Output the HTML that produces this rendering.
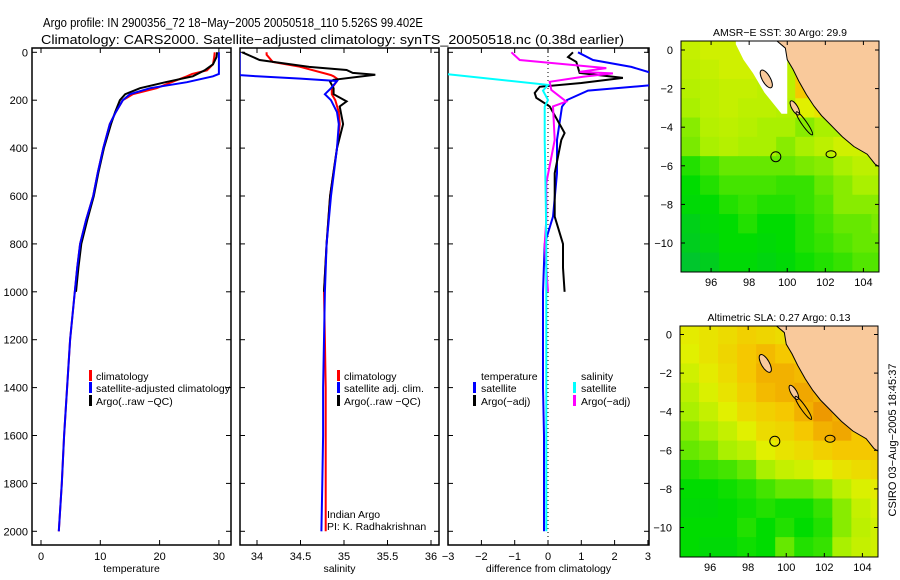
<!DOCTYPE html>
<html><head><meta charset="utf-8"><style>
body{margin:0;background:#fff}
svg{display:block;font-family:"Liberation Sans",sans-serif}
</style></head><body>
<svg id="c" width="900" height="580" xmlns="http://www.w3.org/2000/svg">
<rect width="900" height="580" fill="#fff"/>
<text x="43" y="27" font-size="13" textLength="380" lengthAdjust="spacingAndGlyphs">Argo profile: IN 2900356_72 18−May−2005 20050518_110 5.526S 99.402E</text>
<text x="41" y="44" font-size="13" textLength="583" lengthAdjust="spacingAndGlyphs">Climatology: CARS2000. Satellite−adjusted climatology: synTS_20050518.nc (0.38d earlier)</text>
<g id="plots"></g>
</svg>
<script>
// ---- profile data ----
const tDepth=[0,20,50,75,90,100,125,150,175,200,250,300,400,500,600,700,800,900,1000,1200,1400,1600,1800,2000];
const tClim=[29.3,29.2,29.0,28.0,25.5,24.6,22.0,19.5,15.5,13.8,12.6,11.6,10.5,9.6,8.8,7.6,6.6,6.1,5.7,4.9,4.4,3.9,3.5,3.0];
const tSat=[30.0,30.0,30.0,30.0,30.0,29.0,24.6,18.4,15.0,13.8,12.6,11.6,10.5,9.6,8.8,7.6,6.6,6.1,5.7,4.9,4.4,3.9,3.5,3.0];
const aDepth=[0,20,50,75,100,125,150,175,200,250,300,400,500,600,700,800,900,1000];
const tArgo=[29.7,29.6,29.0,27.6,25.6,21.0,16.7,14.2,13.3,12.5,11.8,10.6,9.7,8.9,7.8,6.8,6.3,5.9];
const sDepth=[0,10,40,60,90,95,100,110,120,150,175,200,250,300,400,600,800,1000,1200,1400,1600,1800,2000];
const sClim=[34.11,34.11,34.18,34.49,34.80,34.85,34.88,34.92,34.92,34.86,34.86,34.90,34.94,34.95,34.92,34.84,34.80,34.77,34.78,34.79,34.79,34.79,34.79];
const sSat=[33.8,33.8,33.8,33.8,33.8,33.8,34.0,34.5,34.92,34.85,34.78,34.85,34.92,34.94,34.92,34.85,34.80,34.78,34.77,34.76,34.76,34.75,34.74];
const saDepth=[0,32,61,74,86,94,115,123,150,175,205,226,300,400,600,800,1000];
const sArgo=[33.83,34.03,34.6,35.03,35.10,35.36,34.88,34.84,34.88,34.88,35.03,34.95,34.99,34.92,34.84,34.80,34.77];
// difference panel
const dDepth=[0,32,61,90,136,160,199,227,366,505,686,800,1000,1200,1400,1600,1800,2000];
const dTSat=[0.9,1.35,2.5,3.2,3.2,1.2,0.57,0.42,0.27,0.27,0.15,-0.1,-0.15,-0.15,-0.15,-0.12,-0.12,-0.12];
const dSSat=[-3.1,-3.1,-3.1,-3.1,0.0,-0.15,0.0,-0.1,-0.1,-0.08,-0.06,-0.05,-0.05,-0.05,-0.05,-0.05,-0.05,-0.05];
const daDepth=[0,20,40,86,107,128,144,170,190,226,337,366,505,686,800,900,1000];
const dTArgo=[0.75,0.6,0.85,0.95,2.25,1.0,-0.25,-0.4,-0.35,0.05,0.5,0.4,0.2,0.2,0.45,0.45,0.5];
const daSDepth=[0,32,45,66,82,88,102,123,157,206,226,366,546,700,800,900,1000];
const dSArgo=[-1.1,-0.85,0.15,1.75,0.95,1.95,1.05,0.05,0.1,0.55,0.15,0.2,-0.05,-0.05,-0.1,-0.05,0.0];
// maps (1-degree cells, rows lat 0.5 -> -11.5, cols lon 94.4 ->)
const sstGrid=[
[.62,.65,.65,.65,.63,.6,.6,.6,.6,.6,.7],
[.6,.62,.65,.65,.6,.6,.85,.8,.6,.6,.7],
[.58,.6,.62,.62,.6,.6,.85,.8,.6,.6,.6],
[.55,.6,.62,.6,.6,.58,.7,.75,.6,.6,.6],
[.5,.58,.6,.58,.55,.55,.5,.55,.55,.6,.6],
[.48,.55,.58,.55,.55,.5,.55,.6,.65,.65,.6],
[.35,.4,.45,.45,.45,.45,.48,.5,.55,.6,.6],
[.3,.35,.4,.4,.4,.38,.38,.45,.5,.55,.55],
[.28,.3,.35,.38,.35,.35,.38,.42,.5,.5,.5],
[.22,.28,.3,.35,.3,.3,.35,.4,.45,.45,.48],
[.2,.25,.3,.3,.28,.3,.35,.38,.42,.45,.45],
[.15,.2,.28,.28,.25,.28,.32,.35,.38,.42,.42]];
const slaGrid=[
[.72,.75,.78,.82,.8,.78,.75,.7,.7,.7,.7],
[.7,.75,.8,.85,.88,.85,.8,.75,.7,.7,.7],
[.65,.72,.78,.85,.9,.9,.88,.8,.75,.7,.7],
[.6,.68,.75,.82,.88,.9,.92,.9,.8,.75,.75],
[.55,.62,.7,.78,.82,.85,.9,.95,.9,.8,.78],
[.5,.55,.62,.7,.78,.8,.85,.9,.92,.85,.82],
[.45,.48,.55,.6,.7,.75,.78,.82,.85,.85,.85],
[.35,.38,.4,.45,.55,.62,.65,.7,.75,.78,.8],
[.3,.3,.32,.35,.4,.45,.45,.5,.6,.68,.72],
[.28,.28,.3,.32,.35,.32,.32,.38,.5,.62,.68],
[.3,.3,.3,.35,.3,.35,.3,.35,.5,.6,.65],
[.3,.28,.28,.32,.3,.45,.35,.38,.55,.62,.65]];
const depthTicks=[0,200,400,600,800,1000,1200,1400,1600,1800,2000];
const tTicks=[0,10,20,30], sTicks=[34,34.5,35,35.5,36], dTicks=[-3,-2,-1,0,1,2,3];
const latTicks=[0,-2,-4,-6,-8,-10], lonTicks=[96,98,100,102,104];

const NS="http://www.w3.org/2000/svg", G=document.getElementById('plots');
function mk(tag,at,parent){const e=document.createElementNS(NS,tag);for(const k in at)e.setAttribute(k,at[k]);(parent||G).appendChild(e);return e;}
const yD=d=>52.3+d*0.2395;
const P1={x0:32,x1:231,f:v=>41+v*5.93}, P2={x0:240,x1:439,f:v=>257+(v-34)*87}, P3={x0:448,x1:649,f:v=>548+v*33.3};
const TOP=48,BOT=545;
function frame(P,name,ticks,lab,labname,showY){
  const r=mk('rect',{x:P.x0,y:TOP,width:P.x1-P.x0,height:BOT-TOP,fill:'none',stroke:'#000','stroke-width':1.5});
  
  
  ticks.forEach(t=>{const x=P.f(t);
    mk('line',{x1:x,x2:x,y1:BOT,y2:BOT-5,stroke:'#000'});mk('line',{x1:x,x2:x,y1:TOP,y2:TOP+5,stroke:'#000'});
    const tx=mk('text',{x:x,y:560,'font-size':11,'text-anchor':'middle'});tx.textContent=(t<0?'−'+(-t):String(t));
    
    });
  depthTicks.forEach(d=>{const y=yD(d);
    mk('line',{x1:P.x0,x2:P.x0+5,y1:y,y2:y,stroke:'#000'});mk('line',{x1:P.x1,x2:P.x1-5,y1:y,y2:y,stroke:'#000'});
    if(showY){const tx=mk('text',{x:28,y:y+4,'font-size':11,'text-anchor':'end'});tx.textContent=d;
      
      }});
  const l=mk('text',{x:(P.x0+P.x1)/2,y:572,'font-size':10.5,'text-anchor':'middle'});l.textContent=lab;
  
  
}
function clip(id,P){const c=mk('clipPath',{id:id});mk('rect',{x:P.x0,y:TOP,width:P.x1-P.x0,height:BOT-TOP},c);}
function line(P,cid,depths,vals,col,name){
  let d='';depths.forEach((z,i)=>{d+=(i?'L':'M')+P.f(vals[i]).toFixed(1)+','+yD(z).toFixed(1);});
  const p=mk('path',{d:d,fill:'none',stroke:col,'stroke-width':2,'clip-path':'url(#'+cid+')'});
  
  
}
function txt(x,y,s,name,size,len){const a={x:x,y:y,'font-size':size||10.5};if(len){a.textLength=len;a.lengthAdjust='spacingAndGlyphs';}
  const t=mk('text',a);t.textContent=s;
  
  return t;}
function bar(x,y,col){mk('rect',{x:x,y:y-10,width:3,height:11,fill:col});}

frame(P1,'temperature-panel',tTicks,'temperature','x-axis-title-temperature',true);
frame(P2,'salinity-panel',sTicks,'salinity','x-axis-title-salinity',false);
frame(P3,'difference-panel',dTicks,'difference from climatology','x-axis-title-difference',false);
clip('c1',P1);clip('c2',P2);clip('c3',P3);
mk('line',{x1:P3.f(0),x2:P3.f(0),y1:TOP,y2:BOT,stroke:'#000','stroke-dasharray':'1,3'});
line(P1,'c1',tDepth,tClim,'#f00','temp-climatology-line');
line(P1,'c1',aDepth,tArgo,'#000','temp-argo-line');
line(P1,'c1',tDepth,tSat,'#00f','temp-satellite-line');
line(P2,'c2',sDepth,sClim,'#f00','sal-climatology-line');
line(P2,'c2',saDepth,sArgo,'#000','sal-argo-line');
line(P2,'c2',sDepth,sSat,'#00f','sal-satellite-line');
line(P3,'c3',dDepth,dTSat,'#00f','diff-temp-satellite-line');
line(P3,'c3',daDepth,dTArgo,'#000','diff-temp-argo-line');
line(P3,'c3',daSDepth,dSArgo,'#f0f','diff-sal-argo-line');
line(P3,'c3',dDepth,dSSat,'#0ff','diff-sal-satellite-line');
// legends
bar(89,380,'#f00');txt(96,380,'climatology','legend-climatology');
bar(89,392,'#00f');txt(96,392,'satellite-adjusted climatology','legend-satellite',10.5,134);
bar(89,405,'#000');txt(96,405,'Argo(..raw −QC)','legend-argo');
bar(337,380,'#f00');txt(344,380,'climatology','legend2-climatology');
bar(337,392,'#00f');txt(344,392,'satellite adj. clim.','legend2-satellite');
bar(337,405,'#000');txt(344,405,'Argo(..raw −QC)','legend2-argo');
txt(481,380,'temperature','legend3-temperature');
bar(473,392,'#00f');txt(481,392,'satellite','legend3-temp-satellite');
bar(473,405,'#000');txt(481,405,'Argo(−adj)','legend3-temp-argo');
txt(581,380,'salinity','legend3-salinity');
bar(573,392,'#0ff');txt(581,392,'satellite','legend3-sal-satellite');
bar(573,405,'#f0f');txt(581,405,'Argo(−adj)','legend3-sal-argo');
txt(327,518,'Indian Argo','credit-indian-argo');
txt(327,530,'PI: K. Radhakrishnan','credit-pi');

// ---- maps ----
function cmap(v){
  const stops=[[0,[0,175,90]],[0.3,[0,220,0]],[0.55,[170,240,0]],[0.7,[225,240,0]],[0.85,[245,200,0]],[1,[235,130,0]]];
  for(let i=1;i<stops.length;i++){if(v<=stops[i][0]){const a=stops[i-1],b=stops[i],t=(v-a[0])/(b[0]-a[0]);
    return 'rgb('+a[1].map((c,k)=>Math.round(c+(b[1][k]-c)*t)).join(',')+')';}}
  return 'rgb(235,130,0)';
}
function map(M,grid,title,name,white){
  const fx=lon=>M.x0+(lon-94.42)*19.04, fy=lat=>M.y0-lat*19.3;
  const g=mk('g',{});
  
  
  const cid=name+'-clip';const c=mk('clipPath',{id:cid},g);mk('rect',{x:M.x0,y:M.top,width:198,height:M.bot-M.top},c);
  const cells=mk('g',{'clip-path':'url(#'+cid+')'},g);
  grid.forEach((row,r)=>row.forEach((v,k)=>{
    const lat=0.5-r, lon=94.42+k;
    mk('rect',{x:fx(lon),y:fy(lat),width:19.6,height:19.9,fill:cmap(v)},cells);}));
  if(white){const pts=[[97.3,0.6],[100,0.6],[100,-3.3],[99.7,-3.3],[98.8,-2.2],[98.2,-1.2],[97.7,-0.5],[97.3,0.3]];
    mk('polygon',{points:pts.map(p=>fx(p[0])+','+fy(p[1])).join(' '),fill:'#fff'},cells);}
  const land=[[99.3,0.6],[99.9,0.1],[100.0,-0.5],[100.3,-1],[100.6,-1.6],[101,-2.3],[101.4,-2.9],[101.8,-3.4],[102.3,-3.9],[102.9,-4.5],[103.5,-5],[104.2,-5.4],[104.6,-5.9],[104.9,-6.1],[104.9,0.6]];
  mk('polygon',{points:land.map(p=>fx(p[0])+','+fy(p[1])).join(' '),fill:'#f9c99b',stroke:'#000','stroke-width':1},cells);
  mk('ellipse',{cx:fx(98.9),cy:fy(-1.5),rx:4,ry:10,fill:'#f9c99b',stroke:'#000',transform:'rotate(-30 '+fx(98.9)+' '+fy(-1.5)+')'},cells);
  mk('ellipse',{cx:fx(100.4),cy:fy(-3.0),rx:3,ry:8,fill:'#f9c99b',stroke:'#000',transform:'rotate(-30 '+fx(100.4)+' '+fy(-3.0)+')'},cells);
  mk('ellipse',{cx:fx(100.9),cy:fy(-3.8),rx:2.5,ry:14,fill:'none',stroke:'#000',transform:'rotate(-35 '+fx(100.9)+' '+fy(-3.8)+')'},cells);
  mk('circle',{cx:fx(99.4),cy:fy(-5.53),r:5,fill:'none',stroke:'#000'},cells);
  mk('ellipse',{cx:fx(102.3),cy:fy(-5.4),rx:5,ry:3.5,fill:'none',stroke:'#000'},cells);
  mk('rect',{x:M.x0,y:M.top,width:198,height:M.bot-M.top,fill:'none',stroke:'#000'},g);
  latTicks.forEach(l=>{const y=fy(l);mk('line',{x1:M.x0,x2:M.x0+4,y1:y,y2:y,stroke:'#000'},g);mk('line',{x1:M.x0+198,x2:M.x0+194,y1:y,y2:y,stroke:'#000'},g);
    const t=mk('text',{x:M.x0-8,y:y+4,'font-size':11,'text-anchor':'end'},g);t.textContent=l<0?'−'+(-l):l;});
  lonTicks.forEach(l=>{const x=fx(l);mk('line',{x1:x,x2:x,y1:M.bot,y2:M.bot-4,stroke:'#000'},g);mk('line',{x1:x,x2:x,y1:M.top,y2:M.top+4,stroke:'#000'},g);
    const t=mk('text',{x:x,y:M.bot+14,'font-size':11,'text-anchor':'middle'},g);t.textContent=l;});
  const t=mk('text',{x:M.x0+99,y:M.top-5,'font-size':10.5,'text-anchor':'middle'},g);t.textContent=title;
}
map({x0:681,y0:50,top:41,bot:272},sstGrid,'AMSR−E SST: 30 Argo: 29.9','sst-map',true);
map({x0:680,y0:334.5,top:326,bot:557},slaGrid,'Altimetric SLA: 0.27 Argo: 0.13','sla-map',false);
const st=mk('text',{x:0,y:0,'font-size':11,'text-anchor':'middle',transform:'translate(896,440) rotate(-90)'});
st.textContent='CSIRO 03−Aug−2005 18:45:37';


</script>
</body></html>
